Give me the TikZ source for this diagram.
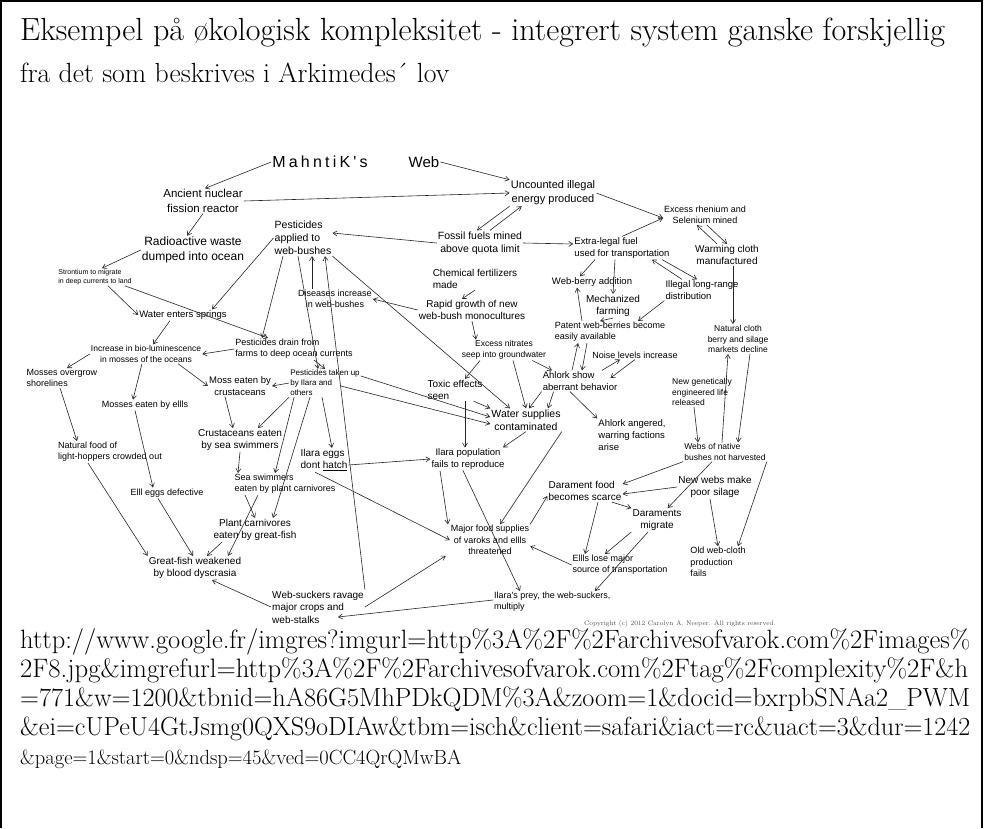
\documentclass[tikz,border=0pt]{standalone}
\usepackage{fontspec}
\usepackage{graphicx}
\usetikzlibrary{arrows.meta}
\newfontfamily\handfont{Liberation Sans}
\newfontfamily\handwide[LetterSpace=20]{Liberation Sans}
\newcommand\hand[1]{\handfont\pgfmathsetmacro\hbls{#1*1.25}\fontsize{#1}{\hbls}\selectfont}
\tikzset{
  lbl/.style={font=\hand{#1}, inner sep=1pt, align=center},
  lbl/.default=9,
  lft/.style={lbl=#1, align=left},
  lft/.default=9,
  arr/.style={-{Straight Barb[length=4pt,width=5pt]}, line width=0.6pt, draw=black!85},
  slide/.style={anchor=base west, inner sep=0pt}
}
\begin{document}
\begin{tikzpicture}[x=1pt,y=-1pt]
\useasboundingbox (0,0) rectangle (984,828);
\fill[white] (0,0) rectangle (984,828);
\draw[line width=2pt] (1,828) -- (1,1) -- (982,1) -- (982,828);

% title and source
\node[slide] (ttl1) at (20,40) {\resizebox{925pt}{!}{\fontsize{30}{36}\selectfont Eksempel på økologisk kompleksitet - integrert system ganske forskjellig}};
\node[slide] (ttl2) at (20,82) {\resizebox{429pt}{!}{\fontsize{30}{36}\selectfont fra det som beskrives i Arkimedes´ lov}};
\node[slide] (src1) at (20,648) {\resizebox{950pt}{!}{\fontsize{26}{30}\selectfont http://www.google.fr/imgres?imgurl=http\%3A\%2F\%2Farchivesofvarok.com\%2Fimages\%}};
\node[slide] (src2) at (20,677) {\resizebox{948pt}{!}{\fontsize{26}{30}\selectfont 2F8.jpg\&imgrefurl=http\%3A\%2F\%2Farchivesofvarok.com\%2Ftag\%2Fcomplexity\%2F\&h}};
\node[slide] (src3) at (20,706) {\resizebox{950pt}{!}{\fontsize{26}{30}\selectfont =771\&w=1200\&tbnid=hA86G5MhPDkQDM\%3A\&zoom=1\&docid=bxrpbSNAa2\_PWM}};
\node[slide] (src4) at (20,735) {\resizebox{950pt}{!}{\fontsize{26}{30}\selectfont \&ei=cUPeU4GtJsmg0QXS9oDIAw\&tbm=isch\&client=safari\&iact=rc\&uact=3\&dur=1242}};
\node[slide] (src5) at (20,764) {\resizebox{441pt}{!}{\fontsize{26}{30}\selectfont \&page=1\&start=0\&ndsp=45\&ved=0CC4QrQMwBA}};

% the web
\node[font=\handwide\fontsize{16}{18}\selectfont, inner sep=1pt] (mah) at (320,162) {MahntiK's};
\node[font=\handfont\fontsize{15}{18}\selectfont, inner sep=1pt] (web) at (424,162) {Web};
\node[lbl=11.5] (anc) at (203,201) {Ancient nuclear\\fission reactor};
\node[lbl=11] (unc) at (553,193) {Uncounted illegal\\energy produced};
\node[lbl=9] (exc) at (705,215) {Excess rhenium and\\Selenium mined};
\node[lbl=10.5] (fos) at (480,243) {Fossil fuels mined\\above quota limit};
\node[lft=9.5] (ext) at (622,248) {Extra-legal fuel\\used for transportation};
\node[lbl=10] (warm) at (727,255) {Warming cloth\\manufactured};
\node[lft=10.5] (pest) at (303,238) {Pesticides\\applied to\\web-bushes};
\node[lbl=12] (rad) at (193,250) {Radioactive waste\\dumped into ocean};
\node[lft=7] (stron) at (95,277) {Strontium to migrate\\in deep currents to land};
\node[lft=10] (chem) at (475,279) {Chemical fertilizers\\made};
\node[lbl=9] (dis) at (335,299) {Diseases increase\\in web-bushes};
\node[lbl=9.5] (berry) at (592,282) {Web-berry addition};
\node[lft=9.5] (ill) at (702,290) {Illegal long-range\\distribution};
\node[lbl=10] (rapid) at (472,310) {Rapid growth of new\\web-bush monocultures};
\node[lbl=10] (mech) at (613,306) {Mechanized\\farming};
\node[lbl=9.5] (water) at (183,315) {Water enters springs};
\node[lft=9] (patent) at (610,332) {Patent web-berries become\\easily available};
\node[lbl=8.5] (natcl) at (738,339) {Natural cloth\\berry and silage\\markets decline};
\node[lft=9] (drain) at (294,349) {Pesticides drain from\\farms to deep ocean currents};
\node[lbl=8.5] (nitr) at (504,350) {Excess nitrates\\seep into groundwater};
\node[lbl=8.5] (incr) at (146,354) {Increase in bio-luminescence\\in mosses of the oceans};
\node[lbl=9] (noise) at (635,355) {Noise levels increase};
\node[lft=9] (overg) at (62,378) {Mosses overgrow\\shorelines};
\node[lft=8] (taken) at (325,383) {Pesticides taken up\\by Ilara and\\others};
\node[lft=9.5] (ahl) at (580,381) {Ahlork show\\aberrant behavior};
\node[lbl=9.5] (mosscr) at (240,386) {Moss eaten by\\crustaceans};
\node[lft=10] (toxic) at (455,390) {Toxic effects\\seen};
\node[lft=8.5] (newgen) at (702,392) {New genetically\\engineered life\\released};
\node[lbl=9] (ellls) at (145,405) {Mosses eaten by ellls};
\node[lbl=10.5] (wsup) at (526,420) {Water supplies\\contaminated};
\node[lft=9.5] (angry) at (632,435) {Ahlork angered,\\warring factions\\arise};
\node[lbl=10] (crust) at (240,440) {Crustaceans eaten\\by sea swimmers};
\node[lft=9] (natfood) at (110,452) {Natural food of\\light-hoppers crowded out};
\node[lft=8.5] (webs) at (725,452) {Webs of native\\bushes not harvested};
\node[lft=10] (eggs) at (324,460) {Ilara eggs\\dont \underline{hatch}};
\node[lbl=9.5] (ilpop) at (468,459) {Ilara population\\fails to reproduce};
\node[lft=9] (sea) at (285,484) {Sea swimmers\\eaten by plant carnivores};
\node[lbl=10] (newwebs) at (715,487) {New webs make\\poor silage};
\node[lbl=9] (eggdef) at (167,493) {Elll eggs defective};
\node[lft=10] (daram) at (585,491) {Darament food\\becomes scarce};
\node[lbl=10] (migr) at (657,520) {Daraments\\migrate};
\node[lbl=10] (plant) at (255,530) {Plant carnivores\\eaten by great-fish};
\node[lbl=9] (major) at (490,540) {Major food supplies\\of varoks and ellls\\threatened};
\node[lft=9] (oldweb) at (718,562) {Old web-cloth\\production\\fails};
\node[lft=9] (lose) at (620,565) {Ellls lose major\\source of transportation};
\node[lbl=10] (great) at (195,568) {Great-fish weakened\\by blood dyscrasia};
\node[lft=9, anchor=north west] (prey) at (493,591) {Ilara's prey, the web-suckers,\\multiply};
\node[lft=10] (suck) at (318,607) {Web-suckers ravage\\major crops and\\web-stalks};
\node[font=\fontsize{6.5}{7}\selectfont, text=black!70, inner sep=0pt] (copy) at (680,624) {Copyright (c) 2012 Carolyn A. Neeper. All rights reserved.};

% top of the web
\draw[arr] (mah.west) -- ([xshift=2pt]anc.north);
\draw[arr] (web.east) -- (unc.north west);
\draw[arr] (anc.east) -- (unc.west);
\draw[arr] (unc.east) -- ([yshift=-3pt]exc.west);
\draw[arr] (unc.south west) -- ([xshift=-3pt]fos.north);
\draw[arr] ([xshift=10pt]fos.north) -- ([xshift=12pt]unc.south west);
\draw[arr] (fos.west) -- ([yshift=5pt]pest.east);
\draw[arr] (fos.east) -- ([yshift=4pt]ext.west);
\draw[arr] (ext.north) -- ([yshift=-3pt]exc.west);
\draw[arr] ([xshift=-10pt]warm.north) -- ([xshift=-8pt]exc.south);
\draw[arr] ([xshift=2pt]exc.south) -- (warm.north);
\draw[arr] ([xshift=6pt]warm.south) -- ([xshift=-5pt]natcl.north);
\draw[arr] ([xshift=-27pt]ext.south) -- ([xshift=-12pt]berry.north);
\draw[arr] ([xshift=-7pt]ext.south) -- (mech.north);
\draw[arr] ([xshift=-20pt]ill.north) -- ([xshift=30pt]ext.south);
\draw[arr] ([xshift=40pt]ext.south) -- ([xshift=-5pt]ill.north);
\draw[arr] (ill.south west) -- ([xshift=28pt]patent.north);
\draw[arr] (mech.south) -- ([xshift=-10pt]patent.north);
\draw[arr] ([xshift=-28pt]patent.north) -- ([xshift=-15pt]berry.south);

% ahlork
\draw[arr] ([xshift=-8pt]ahl.north) -- ([xshift=-32pt]patent.south);
\draw[arr] ([xshift=-23pt]patent.south) -- ([xshift=2pt]ahl.north);
\draw[arr] ([xshift=22pt]ahl.north) -- ([xshift=-15pt]noise.south);
\draw[arr] (noise.south) -- ([xshift=-8pt,yshift=3pt]ahl.east);
\draw[arr] ([xshift=-10pt]ahl.south) -- (angry.north west);
\draw[arr] (ahl.south west) -- ([xshift=3pt]wsup.north);
\draw[arr] ([xshift=12pt]ahl.south west) -- ([xshift=22pt]wsup.north);
\draw[arr] ([xshift=-15pt]nitr.south east) -- ([xshift=-28pt]ahl.north);

% fertilizer and pesticides
\draw[arr] (chem.south) -- ([xshift=-10pt]rapid.north);
\draw[arr] (rapid.south) -- ([xshift=-28pt]nitr.north);
\draw[arr] (rapid.west) -- (dis.east);
\draw[arr] ([xshift=-23pt]dis.north) -- ([xshift=9pt]pest.south);
\draw[arr] (suck.north east) -- ([xshift=22pt]pest.south);
\draw[arr] (pest.south east) -- ([xshift=-16pt]wsup.north);
\draw[arr] ([xshift=-20pt]pest.south) -- ([xshift=-32pt]drain.north);
\draw[arr] ([xshift=-5pt]pest.south) -- ([xshift=-7pt]taken.north);
\draw[arr] (pest.west) -- ([xshift=29pt]water.north);
\draw[arr] ([xshift=9pt]nitr.south) -- (wsup.north);
\draw[arr] ([xshift=-24pt]nitr.south) -- ([xshift=10pt]toxic.north);

% ocean side
\draw[arr] (anc.south) -- ([xshift=-6pt]rad.north);
\draw[arr] (rad.west) -- ([xshift=7pt]stron.north);
\draw[arr] ([xshift=13pt]stron.south) -- (water.west);
\draw[arr] ([xshift=30pt]stron.south) -- ([xshift=-26pt]drain.north);
\draw[arr] ([xshift=-13pt]water.south) -- ([xshift=7pt]incr.north);
\draw[arr] (drain.west) -- (incr.east);
\draw[arr] ([xshift=20pt]drain.south) -- (taken.north);
\draw[arr] (incr.west) -- ([xshift=5pt]overg.north);
\draw[arr] ([xshift=-4pt]incr.south) -- ([xshift=-12pt]ellls.north);
\draw[arr] ([xshift=32pt]incr.south) -- (mosscr.west);
\draw[arr] (taken.west) -- (mosscr.east);
\draw[arr] (taken.south west) -- ([xshift=18pt]crust.north);
\draw[arr] ([xshift=5pt]taken.south west) -- ([xshift=-10pt]sea.north);
\draw[arr] ([xshift=-15pt]taken.south) -- ([xshift=18pt]plant.north);
\draw[arr] ([xshift=-3pt]taken.south) -- ([xshift=8pt]eggs.north);
\draw[arr] ([yshift=7pt]taken.east) -- ([yshift=3pt]wsup.west);
\draw[arr] ([xshift=-20pt,yshift=-3pt]taken.east) -- ([yshift=-4pt]wsup.west);
\draw[arr] ([xshift=-15pt]mosscr.south) -- ([xshift=-7pt]crust.north);
\draw[arr] (crust.south) -- ([xshift=-47pt]sea.north);
\draw[arr] ([xshift=-40pt]sea.south) -- (plant.north);
\draw[arr] ([xshift=-27pt]sea.south) -- ([xshift=33pt]great.north);
\draw[arr] ([xshift=-2pt]overg.south) -- ([xshift=-33pt]natfood.north);
\draw[arr] ([xshift=-22pt]natfood.south) -- (great.north west);
\draw[arr] ([xshift=-10pt]ellls.south) -- ([xshift=-14pt]eggdef.north);
\draw[arr] ([xshift=-9pt]eggdef.south) -- ([xshift=-2pt]great.north);
\draw[arr] ([xshift=-33pt]plant.south) -- ([xshift=12pt]great.north);
\draw[arr] (suck.west) -- ([xshift=17pt]great.south);

% ilara and food supplies
\draw[arr] ([yshift=-5pt]eggs.east) -- (ilpop.west);
\draw[arr] ([xshift=-9pt]eggs.south) -- (major.west);
\draw[arr] ([xshift=10pt]toxic.south) -- ([xshift=-3pt]ilpop.north);
\draw[arr] ([xshift=-10pt]toxic.south east) -- (wsup.north west);
\draw[arr] (wsup.south) -- ([xshift=35pt]ilpop.north);
\draw[arr] (wsup.south east) -- ([xshift=10pt]major.north);
\draw[arr] ([xshift=-28pt]ilpop.south) -- ([xshift=-42pt]major.north);
\draw[arr] ([xshift=-5pt]ilpop.south) -- ([xshift=27pt]prey.north west);
\draw[arr] (major.north east) -- ([yshift=-5pt]daram.west);
\draw[arr] (lose.west) -- ([yshift=-6pt]major.east);
\draw[arr] (suck.east) -- ([xshift=-4pt]major.south west);
\draw[arr] ([yshift=2pt]prey.west) -- ([xshift=-27pt,yshift=-10pt]suck.east);

% daraments and native bushes
\draw[arr] ([xshift=13pt]daram.south) -- ([xshift=-35pt]lose.north);
\draw[arr] ([xshift=27pt]daram.south) -- (migr.north west);
\draw[arr] (migr.south west) -- ([xshift=-15pt]lose.north);
\draw[arr] ([xshift=-9pt]migr.south) -- ([xshift=102pt]prey.north west);
\draw[arr] (newwebs.west) -- ([yshift=-3pt]daram.east);
\draw[arr] ([xshift=-5pt]newwebs.south) -- (oldweb.north);
\draw[arr] (webs.south west) -- ([yshift=7pt]daram.east);
\draw[arr] ([xshift=-13pt]webs.south) -- ([xshift=-15pt]migr.north east);
\draw[arr] (webs.south east) -- ([xshift=20pt]oldweb.north);
\draw[arr] ([xshift=-3pt]webs.north) -- ([xshift=-10pt]natcl.south);
\draw[arr] ([xshift=12pt]natcl.south) -- ([xshift=13pt]webs.north);
\draw[arr] ([xshift=-8pt]newgen.south) -- ([xshift=-27pt]webs.north);
\end{tikzpicture}
\end{document}
